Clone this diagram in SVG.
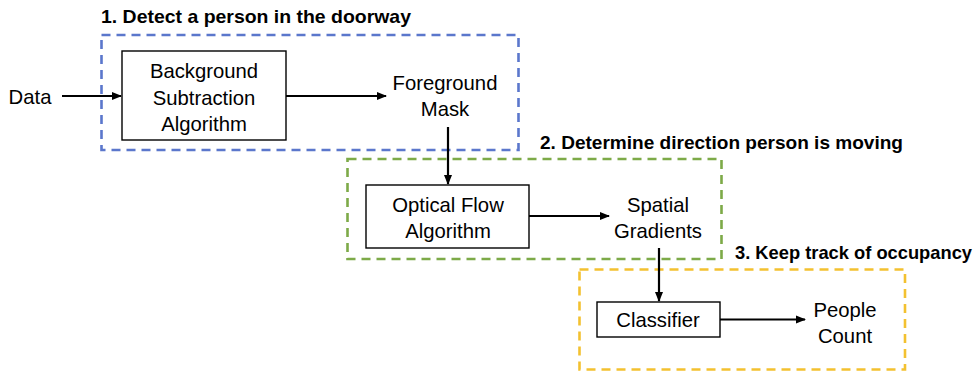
<svg xmlns="http://www.w3.org/2000/svg" width="979" height="373" viewBox="0 0 979 373">
<style>
.t{font-family:"Liberation Sans",Arial,sans-serif;font-size:20.3px;fill:#000;text-anchor:middle}
.h{font-family:"Liberation Sans",Arial,sans-serif;font-size:18.5px;font-weight:bold;fill:#000}
.box{fill:#fff;stroke:#000;stroke-width:1.4}
.grp{fill:none;stroke-width:2.6;stroke-dasharray:9 6}
.c{stroke:#000;stroke-width:2.2;fill:none;marker-end:url(#ah)}
</style>
<defs>
<marker id="ah" markerWidth="10" markerHeight="10" refX="9" refY="5" orient="auto" markerUnits="userSpaceOnUse">
<path d="M0,1 L10,5 L0,9 Z" fill="#000"/>
</marker>
</defs>
<g id="group1">
<rect class="grp" x="101.5" y="35" width="417" height="115" stroke="#5B77CC"/>
<text class="h" x="101" y="23" textLength="310" lengthAdjust="spacingAndGlyphs">1. Detect a person in the doorway</text>
</g>
<g id="group2">
<rect class="grp" x="347.5" y="159" width="374" height="100" stroke="#7DAA48"/>
<text class="h" x="540" y="149" textLength="363" lengthAdjust="spacingAndGlyphs">2. Determine direction person is moving</text>
</g>
<g id="group3">
<rect class="grp" x="579.5" y="269.5" width="325.5" height="100" stroke="#F3C130"/>
<text class="h" x="735" y="259" textLength="237" lengthAdjust="spacingAndGlyphs">3. Keep track of occupancy</text>
</g>
<g id="data"><text class="t" x="30" y="104">Data</text></g>
<g id="bsa">
<rect class="box" x="122" y="51" width="164" height="89"/>
<text class="t" x="204" y="78">Background</text>
<text class="t" x="204" y="104.5">Subtraction</text>
<text class="t" x="204" y="131">Algorithm</text>
</g>
<g id="fgmask">
<text class="t" x="445" y="90">Foreground</text>
<text class="t" x="445" y="116">Mask</text>
</g>
<g id="optflow">
<rect class="box" x="366" y="185" width="163" height="63"/>
<text class="t" x="448" y="212">Optical Flow</text>
<text class="t" x="448" y="238">Algorithm</text>
</g>
<g id="spatial">
<text class="t" x="658" y="212">Spatial</text>
<text class="t" x="658" y="238">Gradients</text>
</g>
<g id="classifier">
<rect class="box" x="597" y="302" width="123" height="35"/>
<text class="t" x="658" y="327">Classifier</text>
</g>
<g id="people">
<text class="t" x="845" y="317">People</text>
<text class="t" x="845" y="343">Count</text>
</g>
<g id="connectors">
<line class="c" x1="62" y1="96" x2="121" y2="96"/>
<line class="c" x1="286" y1="96" x2="386" y2="96"/>
<line class="c" x1="448" y1="127" x2="448" y2="184"/>
<line class="c" x1="529" y1="216" x2="609" y2="216"/>
<line class="c" x1="659" y1="248" x2="659" y2="301"/>
<line class="c" x1="720" y1="319.5" x2="805" y2="319.5"/>
</g>
</svg>
